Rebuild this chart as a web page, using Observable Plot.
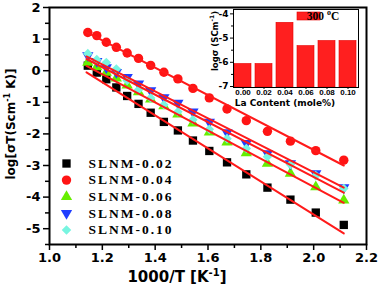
<!DOCTYPE html>
<html><head><meta charset="utf-8">
<script src="https://cdn.jsdelivr.net/npm/d3@7"></script>
<script src="https://cdn.jsdelivr.net/npm/@observablehq/plot@0.6"></script>
<style>
body{margin:0;background:#fff;}
#wrap{position:relative;width:379px;height:288px;overflow:hidden;background:#fff;}
#wrap svg{position:absolute;overflow:visible;}
</style></head><body><div id="wrap"></div>
<script>
// ---- data ----
const invT = [1.145,1.179,1.215,1.253,1.294,1.337,1.383,1.433,1.486,1.543,1.605,1.672,1.745,1.825,1.912,2.008,2.114];
const sLNM002 = [0.16,-0.06,-0.27,-0.53,-0.80,-1.05,-1.33,-1.62,-1.89,-2.21,-2.54,-2.90,-3.28,-3.70,-4.08,-4.49,-4.88];
const sLNM004 = [1.21,1.11,0.90,0.74,0.56,0.39,0.17,-0.05,-0.26,-0.56,-0.86,-1.21,-1.58,-1.92,-2.23,-2.53,-2.83];
const sLNM006 = [0.26,0.12,-0.06,-0.24,-0.46,-0.67,-0.90,-1.12,-1.38,-1.66,-1.95,-2.26,-2.60,-2.94,-3.25,-3.68,-4.10];
const sLNM008 = [0.48,0.30,0.10,-0.05,-0.21,-0.41,-0.63,-0.85,-1.02,-1.30,-1.62,-1.96,-2.30,-2.62,-2.94,-3.25,-3.70];
const sLNM010 = [0.54,0.35,0.26,0.05,-0.31,-0.60,-0.86,-1.08,-1.30,-1.55,-1.85,-2.15,-2.46,-2.72,-2.97,-3.32,-3.73];
const seriesNames = ["SLNM-0.02","SLNM-0.04","SLNM-0.06","SLNM-0.08","SLNM-0.10"];
// fitted straight lines: end points
const fitX = [1.14, 2.114];
const fit002 = [-0.05, -5.15];
const fit004 = [1.22, -3.00];
const fit006 = [0.15, -4.18];
const fit008 = [0.45, -3.70];
const fit010 = [0.37, -3.86];
// inset bars
const laContent = ["0.00","0.02","0.04","0.06","0.08","0.10"];
const logSigma300 = [-6.07,-6.07,-4.37,-5.33,-5.12,-5.12];
// ticks
const xTicks = [1.0,1.2,1.4,1.6,1.8,2.0,2.2];
const xMinor = [1.1,1.3,1.5,1.7,1.9,2.1];
const yTicks = [-5,-4,-3,-2,-1,0,1,2];
const yMinor = [-5.5,-4.5,-3.5,-2.5,-1.5,-0.5,0.5,1.5];
const inYTicks = [-7,-6,-5,-4];
const inYMinor = [-6.5,-5.5,-4.5];

const RED = "#ff1a1a";
const triDown = {draw(ctx, size){ const s3 = Math.sqrt(3); const y = -Math.sqrt(size/(s3*3));
  ctx.moveTo(0, -y*2); ctx.lineTo(-s3*y, y); ctx.lineTo(s3*y, y); ctx.closePath(); }};

const seriesVals = [sLNM002, sLNM004, sLNM006, sLNM008, sLNM010];
const fits = [fit002, fit004, fit006, fit008, fit010];
const styles = [
  {symbol:"square", fill:"#000000", r:4.7},
  {symbol:"circle", fill:"#ff1414", r:4.7},
  {symbol:"triangle", fill:"#66ee00", r:4.2},
  {symbol:triDown, fill:"#1f3dff", r:4.2},
  {symbol:"diamond2", fill:"#78f5e0", r:4.3}
];
const pts = seriesVals.map(vals => invT.map((x,i)=>({x, y: vals[i]})));
const fitLines = fits.map(f => fitX.map((x,i)=>({x, y:f[i]})));

const dotMarks = pts.map((d,k)=>Plot.dot(d,{x:"x", y:"y", symbol:()=>styles[k].symbol, fill:styles[k].fill, r:styles[k].r, stroke:"none"}));
const lineMarks = fitLines.map(d=>Plot.line(d,{x:"x", y:"y", stroke:RED, strokeWidth:2}));
const legendMarks = [];
seriesNames.forEach((name,k)=>{
  legendMarks.push(Plot.dot([name],{frameAnchor:"top-left", dx:17, dy:156+k*16.6, symbol:()=>styles[k].symbol, fill:styles[k].fill, r:styles[k].r}));
  legendMarks.push(Plot.text([name],{text:d=>d, frameAnchor:"top-left", dx:39, dy:156+k*16.6, textAnchor:"start", lineAnchor:"middle",
    fontFamily:"Liberation Serif", fontWeight:"bold", fontSize:13.5, fill:"#000", className:"lg"}));
});

const main = Plot.plot({
  width:379, height:288, marginLeft:49, marginRight:13, marginTop:7, marginBottom:44,
  x:{domain:[1.0,2.2]}, y:{domain:[-5.5,2]},
  style:{fontFamily:"DejaVu Sans", fontWeight:"bold", fontSize:"13px", color:"#000", background:"transparent"},
  marks:[
    Plot.axisX(xTicks,{tickSize:6, tickPadding:2, tickFormat:d=>d.toFixed(1), fontSize:13, strokeWidth:1.5, label:null}),
    Plot.axisX(xMinor,{tickSize:4, tickFormat:()=>"", strokeWidth:1.5, label:null}),
    Plot.axisY(yTicks,{tickSize:6, tickPadding:3, tickFormat:d=>String(d), fontSize:13, strokeWidth:1.5, label:null}),
    Plot.axisY(yMinor,{tickSize:4, tickFormat:()=>"", strokeWidth:1.5, label:null}),
    ...dotMarks,
    ...lineMarks,
    ...legendMarks,
    Plot.frame({stroke:"#000", strokeWidth:2})
  ]
});
main.style.left="0px"; main.style.top="0px";
document.getElementById("wrap").appendChild(main);
d3.select(main).selectAll(".lg text").style("letter-spacing","2px");

// axis titles
const ms = d3.select(main);
const xt = ms.append("text").attr("x",177).attr("y",282).attr("text-anchor","middle")
  .style("font-family","DejaVu Sans").style("font-weight","bold").style("font-size","15px").attr("fill","#000");
xt.append("tspan").text("1000/T [K");
xt.append("tspan").text("-1").attr("dy",-6).style("font-size","10px");
xt.append("tspan").text("]").attr("dy",6);
const yt = ms.append("text").attr("transform","translate(15,124) rotate(-90)").attr("text-anchor","middle")
  .style("font-family","DejaVu Sans").style("font-weight","bold").style("font-size","12px").attr("fill","#000");
yt.append("tspan").text("log[σT(Scm");
yt.append("tspan").text("-1").attr("dy",-5).style("font-size","8px");
yt.append("tspan").text(" K)]").attr("dy",5);

// ---- inset ----
const barData = laContent.map((c,i)=>({c, v: logSigma300[i]}));
const inY = [-7.04, -3.82];
const inset = Plot.plot({
  width:174, height:112, marginLeft:37, marginRight:12, marginTop:9, marginBottom:25,
  x:{domain:laContent, paddingInner:0.18, paddingOuter:0.06},
  y:{domain:inY},
  style:{fontFamily:"DejaVu Sans", fontWeight:"bold", fontSize:"9px", color:"#000", background:"transparent"},
  marks:[
    Plot.barY(barData,{x:"c", y1:inY[0], y2:"v", fill:"#ff1f1f", stroke:"#e60000", strokeWidth:0.6}),
    Plot.axisX({tickSize:2, tickPadding:0, fontSize:8, fontFamily:"Liberation Sans", label:null}),
    Plot.axisY(inYTicks,{tickSize:3, tickPadding:2, tickFormat:d=>String(d), fontSize:9, label:null}),
    Plot.axisY(inYMinor,{tickSize:2, tickFormat:()=>"", label:null}),
    Plot.frame({stroke:"#000", strokeWidth:1})
  ]
});
inset.style.left="196px"; inset.style.top="0px";
document.getElementById("wrap").appendChild(inset);
const is = d3.select(inset);
is.append("text").attr("x",89).attr("y",106).attr("text-anchor","middle")
  .style("font-family","DejaVu Sans").style("font-weight","bold").style("font-size","9px").attr("fill","#000")
  .text("La Content (mole%)");
const iyt = is.append("text").attr("transform","translate(22,41) rotate(-90)").attr("text-anchor","middle")
  .style("font-family","DejaVu Sans").style("font-weight","bold").style("font-size","8.5px").attr("fill","#000");
iyt.append("tspan").text("logσ (SCm");
iyt.append("tspan").text("-1").attr("dy",-4).style("font-size","6px");
iyt.append("tspan").text(")").attr("dy",4);
is.append("rect").attr("x",101).attr("y",12).attr("width",23).attr("height",8).attr("fill","#ff1f1f").attr("stroke","#e60000").attr("stroke-width",0.6);
const lt = is.append("text").attr("x",127).attr("y",20)
  .style("font-family","Liberation Serif").style("font-weight","bold").style("font-size","11.5px").attr("fill","#000");
lt.append("tspan").text("300 ");
lt.append("tspan").text("o").attr("dy",-5).style("font-size","8px");
lt.append("tspan").text("C").attr("dy",5);
</script></body></html>
